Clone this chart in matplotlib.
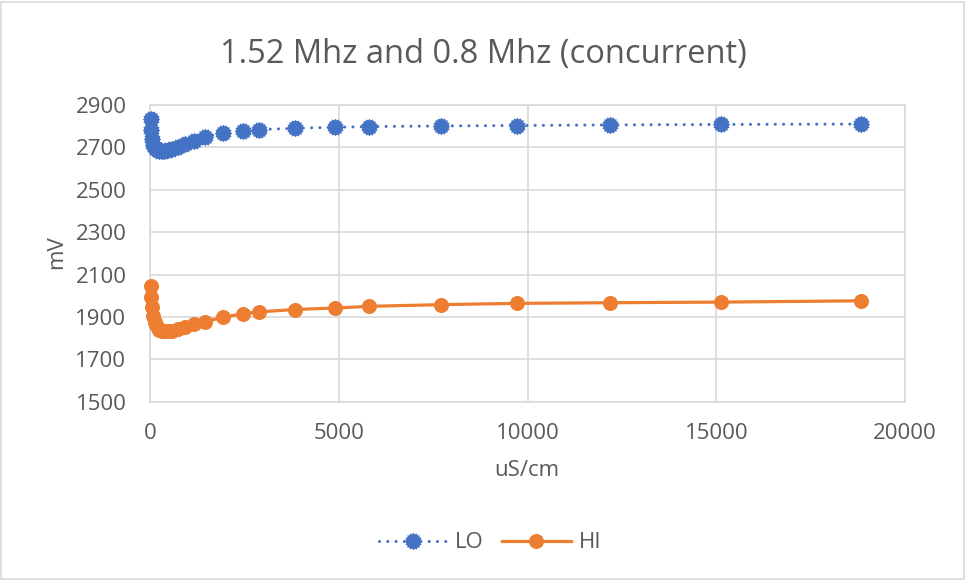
import numpy as np
import matplotlib
matplotlib.use('Agg')
import matplotlib.pyplot as plt
from matplotlib.path import Path
from matplotlib.patches import Rectangle

# conductivity (uS/cm) and sensor output (mV)
x_us = [15, 35, 60, 90, 125, 160, 200, 250, 310, 380, 470, 590, 740, 930,
        1170, 1460, 1930, 2450, 2900, 3850, 4900, 5810, 7710, 9730, 12180,
        15125, 18830]
lo_mv = [2835, 2780, 2738, 2712, 2698, 2690, 2686, 2684, 2683, 2684, 2687,
         2693, 2702, 2714, 2730, 2750, 2768, 2777, 2784, 2790, 2795, 2798,
         2801, 2803, 2806, 2808, 2810]
hi_mv = [2045, 1995, 1945, 1905, 1878, 1860, 1848, 1840, 1835, 1832, 1832,
         1835, 1842, 1852, 1865, 1878, 1898, 1915, 1924, 1935, 1942, 1950,
         1958, 1964, 1967, 1970, 1976]

title = '1.52 Mhz and 0.8 Mhz (concurrent)'
x_ticks = [0, 5000, 10000, 15000, 20000]
y_ticks = [1500, 1700, 1900, 2100, 2300, 2500, 2700, 2900]

plt.rcParams['font.family'] = ['Open Sans', 'DejaVu Sans']
TXT = '#595959'
GRID = '#d9d9d9'
BLUE = '#4472C4'
ORANGE = '#ED7D31'

# jagged round marker (Excel "round dot" border look)
n = 16
ang = np.linspace(0, 2*np.pi, 2*n, endpoint=False)
rad = np.where(np.arange(2*n) % 2 == 0, 1.0, 0.84)
verts = np.column_stack([rad*np.cos(ang), rad*np.sin(ang)])
verts = np.vstack([verts, verts[0]])
codes = [Path.MOVETO] + [Path.LINETO]*(2*n - 1) + [Path.CLOSEPOLY]
jag = Path(verts, codes)

fig = plt.figure(figsize=(9.66, 5.8), dpi=100)
fig.patches.append(Rectangle((0.001, 0.002), 0.997, 0.995, transform=fig.transFigure,
                             fill=False, edgecolor=GRID, linewidth=1.2))
ax = fig.add_axes([0.1553, 0.3074, 0.7816, 0.5116])

ax.plot(x_us, lo_mv, color=BLUE, linewidth=2.2, linestyle=(0, (0.01, 2.7)),
        dash_capstyle='round', marker=jag, markersize=12.5,
        markerfacecolor=BLUE, markeredgewidth=0, label='LO', zorder=3, clip_on=False)
ax.plot(x_us, hi_mv, color=ORANGE, linewidth=2.3, marker='o', markersize=10.8,
        markerfacecolor=ORANGE, markeredgewidth=0, label='HI', zorder=3, clip_on=False)

ax.set_xlim(0, 20000)
ax.set_ylim(1500, 2900)
ax.set_xticks(x_ticks)
ax.set_yticks(y_ticks)
ax.grid(True, color=GRID, linewidth=1.2)
ax.set_axisbelow(True)
for s in ax.spines.values():
    s.set_color(GRID)
    s.set_linewidth(1.2)
ax.tick_params(length=0, labelsize=16, labelcolor=TXT)
ax.tick_params(axis='y', pad=17)
ax.tick_params(axis='x', pad=15)

fig.text(0.5, 0.906, title, ha='center', va='center', fontsize=23.5, color=TXT)
fig.text(0.5455, 1 - 470/580, 'uS/cm', ha='center', va='center', fontsize=16, color=TXT)
fig.text(57/966, 1 - 252/580, 'mV', ha='center', va='center', rotation=90,
         fontsize=16, color=TXT)

fig.legend(loc='center', bbox_to_anchor=(0.507, 1 - 543/580), ncol=2, frameon=False,
           fontsize=16, handlelength=3.1, columnspacing=0.8, handletextpad=0.35,
           labelcolor=TXT)

fig.savefig('out.png', dpi=100)
